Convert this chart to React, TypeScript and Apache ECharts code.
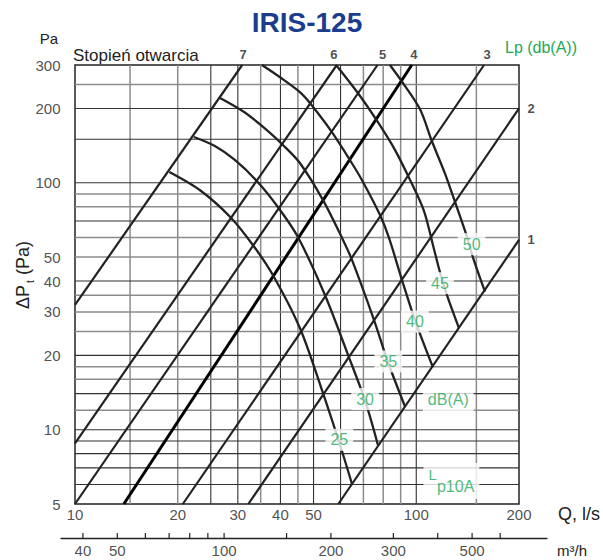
import React, { useEffect, useRef } from "react";
import * as echarts from "echarts";

// ---- axes / grid values ----
const qRange = [10, 200];
const pRange = [5, 300];
const qGridDark = [25, 30, 40, 50, 60, 100];
const qGridGrey = [14.5, 20, 35, 45, 70, 80, 90, 150];
const pGridDark = [6, 7, 8, 9, 10, 14, 20, 40, 70, 100, 150, 200];
const pGridGrey = [12, 16, 18, 25, 30, 35, 50, 60, 80, 90, 250];
const qTickLabels = [10, 20, 30, 40, 50, 100, 200];
const pTickLabels = [5, 10, 20, 30, 40, 50, 100, 200, 300];
const m3hRange = [34.7, 813];
const m3hTicks = [40, 50, 60, 70, 80, 90, 100, 150, 200, 300, 400, 500, 600];
const m3hTickLabels = [40, 50, 100, 200, 300, 500];

// ---- damper opening lines (Stopień otwarcia) ----
const opening1 = [[59.1, 5], [200, 58.7]];
const opening2 = [[32.2, 5], [200, 200]];
const opening3 = [[20.7, 5], [158, 300]];
const opening4 = [[13.9, 5], [97, 300]];
const opening5 = [[10, 5], [77, 300]];
const opening6 = [[10, 8.8], [58.5, 300]];
const opening7 = [[10, 32], [30.9, 300]];
const openingNames = ["1", "2", "3", "4", "5", "6", "7"];

// ---- sound level curves Lp dB(A) ----
const lp25 = [[18.9, 110.6], [23.2, 93.5], [28.5, 72.7], [33.2, 56], [38, 42.3], [45.6, 25.8], [52.9, 14.5], [59.8, 8.67], [64.8, 6.03]];
const lp30 = [[22.3, 153.3], [25.7, 140.9], [29.4, 123.7], [34.1, 101.7], [39.3, 79.8], [45, 60.3], [54, 35.1], [63.1, 20.1], [70.8, 13.1], [77.2, 8.67]];
const lp35 = [[26.6, 220.5], [31.3, 193.5], [36.5, 163.6], [40.4, 143.6], [45.6, 120.3], [53.3, 85.1], [61, 58.7], [64.8, 48.7], [75.2, 27.8], [82.6, 18.8], [92.7, 12.4]];
const lp40 = [[35.3, 300], [40.2, 265.6], [45.6, 233], [48.8, 210.5], [56.6, 160.5], [63.9, 123.7], [69.3, 102.6], [78.3, 74], [83.2, 59.8], [90.8, 40.4], [99.1, 27.8], [111.9, 17.9]];
const lp45 = [[58.2, 300], [67.6, 230], [77.2, 176], [86.6, 136], [95.8, 103], [105.3, 77], [111.9, 56], [117.3, 43.5], [123, 35.1], [133.4, 25.8]];
const lp50 = [[83.7, 300], [90.6, 258], [102.5, 199], [111, 148], [121.4, 109], [129.9, 83.6], [140.5, 61], [146.9, 49.4], [159, 36.2]];
const lpNames = ["25", "30", "35", "40", "45", "50"];
const lpLabelPoints = [[59.5, 9.1], [70.8, 13.3], [82.8, 18.9], [99.1, 27.4], [117.3, 39.2], [145.3, 56.4]];
const dbaLabelPoint = [124.1, 13.2];
const lp10aLabelPoint = [126.8, 6.2];

const FONT = "'Liberation Sans', Arial, Helvetica, sans-serif";
const GREEN = "#1ea85a";
const INK = "#222";
const GRID_DARK = "#333";
const GRID_GREY = "#8c8c8c";

export default function App() {
  const ref = useRef<HTMLDivElement>(null);

  useEffect(() => {
    document.body.style.margin = "0";
    const chart = echarts.init(ref.current!, null, { renderer: "svg" });

    const base = { symbol: "none", silent: true, animation: false, xAxisIndex: 0, yAxisIndex: 0 };
    const vLine = (q: number, color: string, width: number) => ({
      ...base, type: "line", z: 1, data: [[q, pRange[0]], [q, pRange[1]]], lineStyle: { color, width },
    });
    const hLine = (p: number, color: string, width: number) => ({
      ...base, type: "line", z: 1, data: [[qRange[0], p], [qRange[1], p]], lineStyle: { color, width },
    });

    const openings = [opening1, opening2, opening3, opening4, opening5, opening6, opening7];
    const openingLabelOffsets = [[0, 0], [0, 0], [3, 0], [2, 0], [5, 0], [-3, 0], [1, 0]];
    const lps = [lp25, lp30, lp35, lp40, lp45, lp50];

    const labelScatter = (extra: any) => ({
      type: "scatter", silent: true, clip: false, animation: false,
      symbolSize: 1, itemStyle: { color: "rgba(0,0,0,0)" }, ...extra,
    });

    const series: any[] = [
      ...qGridGrey.map((q) => vLine(q, GRID_GREY, 1.5)),
      ...qGridDark.map((q) => vLine(q, GRID_DARK, 1.1)),
      ...pGridGrey.map((p) => hLine(p, GRID_GREY, 1.5)),
      ...pGridDark.map((p) => hLine(p, GRID_DARK, 1.1)),
      ...openings.map((pts, i) => ({
        ...base, type: "line", z: 3, data: pts,
        lineStyle: { color: i === 3 ? "#000" : INK, width: i === 3 ? 3 : 2.2 },
      })),
      ...lps.map((pts) => ({
        ...base, type: "line", z: 3, data: pts, smooth: 0.3,
        lineStyle: { color: INK, width: 2.3 },
      })),
      // opening numbers
      labelScatter({
        z: 6, xAxisIndex: 0, yAxisIndex: 0,
        data: openings.map((pts, i) => ({
          value: pts[1], name: openingNames[i],
          label: i < 2
            ? { position: "right", distance: 8 }
            : { position: "top", distance: 4, offset: openingLabelOffsets[i] },
        })),
        label: { show: true, formatter: "{b}", color: INK, fontSize: 13, fontWeight: "bold", fontFamily: FONT },
      }),
      // x tick labels
      labelScatter({
        z: 6, xAxisIndex: 0, yAxisIndex: 0,
        data: qTickLabels.map((q) => ({ value: [q, pRange[0]], name: String(q) })),
        label: { show: true, position: "bottom", distance: 2, formatter: "{b}", color: INK, fontSize: 15, fontFamily: FONT },
      }),
      // y tick labels
      labelScatter({
        z: 6, xAxisIndex: 0, yAxisIndex: 0,
        data: pTickLabels.map((p) => ({ value: [qRange[0], p], name: String(p) })),
        label: { show: true, position: "left", distance: 14, formatter: "{b}", color: INK, fontSize: 15, fontFamily: FONT },
      }),
      // green Lp labels
      labelScatter({
        z: 10, xAxisIndex: 0, yAxisIndex: 0,
        data: lpLabelPoints.map((pt, i) => ({ value: pt, name: lpNames[i] })),
        label: {
          show: true, position: "inside", formatter: "{b}", color: GREEN, fontSize: 16, fontFamily: FONT,
          backgroundColor: "#fff", padding: [3, 5],
        },
      }),
      labelScatter({
        z: 10, xAxisIndex: 0, yAxisIndex: 0,
        data: [{ value: dbaLabelPoint, name: "dB(A)" }],
        label: {
          show: true, position: "inside", formatter: "{b}", color: GREEN, fontSize: 16, fontFamily: FONT,
          backgroundColor: "#fff", padding: [3, 5],
        },
      }),
      labelScatter({
        z: 10, xAxisIndex: 0, yAxisIndex: 0,
        data: [{ value: lp10aLabelPoint, name: "Lp10A" }],
        label: {
          show: true, position: "inside", formatter: "{L|L}{s|p10A}",
          backgroundColor: "#fff", padding: [4, 5],
          rich: {
            L: { color: GREEN, fontSize: 15, fontFamily: FONT, lineHeight: 28, verticalAlign: "top" },
            s: { color: GREEN, fontSize: 16, fontFamily: FONT, lineHeight: 28, verticalAlign: "bottom" },
          },
        },
      }),
      // secondary m3/h scale ticks
      ...m3hTicks.map((v) => ({
        type: "line", symbol: "none", silent: true, animation: false, xAxisIndex: 1, yAxisIndex: 1,
        data: [[v, 0], [v, 1]], lineStyle: { color: INK, width: 1.2 },
      })),
      labelScatter({
        z: 6, xAxisIndex: 1, yAxisIndex: 1,
        data: m3hTickLabels.map((v) => ({ value: [v, 0], name: String(v) })),
        label: { show: true, position: "bottom", distance: 4, formatter: "{b}", color: INK, fontSize: 15, fontFamily: FONT },
      }),
    ];

    const hidden = { axisLine: { show: false }, axisTick: { show: false }, axisLabel: { show: false }, splitLine: { show: false } };

    chart.setOption({
      animation: false,
      backgroundColor: "#fff",
      grid: [
        { left: 75, top: 65, width: 444, height: 439, show: true, borderColor: INK, borderWidth: 1.5, backgroundColor: "transparent" },
        { left: 61, top: 533, width: 486, height: 5, show: false },
      ],
      xAxis: [
        { type: "log", logBase: 10, min: qRange[0], max: qRange[1], gridIndex: 0, ...hidden },
        {
          type: "log", logBase: 10, min: m3hRange[0], max: m3hRange[1], gridIndex: 1, position: "top",
          axisLine: { show: true, lineStyle: { color: INK, width: 1.3 } },
          axisTick: { show: false }, axisLabel: { show: false }, splitLine: { show: false },
        },
      ],
      yAxis: [
        { type: "log", logBase: 10, min: pRange[0], max: pRange[1], gridIndex: 0, ...hidden },
        { type: "value", min: 0, max: 1, gridIndex: 1, show: false, ...hidden },
      ],
      graphic: [
        { type: "text", x: 307, y: 22, style: { text: "IRIS-125", fill: "#1c3d8e", font: `bold 28px ${FONT}`, textAlign: "center", textVerticalAlign: "middle" } },
        { type: "text", x: 49, y: 38, style: { text: "Pa", fill: INK, font: `15px ${FONT}`, textAlign: "center", textVerticalAlign: "middle" } },
        { type: "text", x: 73, y: 55, style: { text: "Stopień otwarcia", fill: INK, font: `17px ${FONT}`, textAlign: "left", textVerticalAlign: "middle" } },
        { type: "text", x: 505, y: 47, style: { text: "Lp (db(A))", fill: GREEN, font: `16px ${FONT}`, textAlign: "left", textVerticalAlign: "middle" } },
        { type: "text", x: 558, y: 514, style: { text: "Q, l/s", fill: INK, font: `18px ${FONT}`, textAlign: "left", textVerticalAlign: "middle" } },
        { type: "text", x: 557, y: 550, style: { text: "m³/h", fill: INK, font: `15px ${FONT}`, textAlign: "left", textVerticalAlign: "middle" } },
        {
          type: "text", x: 23, y: 275, rotation: Math.PI / 2,
          style: {
            text: "{a|ΔP}{s|t}{a|(Pa)}", textAlign: "center", textVerticalAlign: "middle",
            rich: {
              a: { fill: INK, fontSize: 18, fontFamily: FONT, lineHeight: 24, verticalAlign: "middle" },
              s: { fill: INK, fontSize: 10, fontFamily: FONT, lineHeight: 12, verticalAlign: "bottom", padding: [0, 5, 0, 2] },
            },
          },
        },
      ],
      series,
    });

    return () => chart.dispose();
  }, []);

  return <div ref={ref} style={{ width: 603, height: 560, display: "block" }} />;
}
